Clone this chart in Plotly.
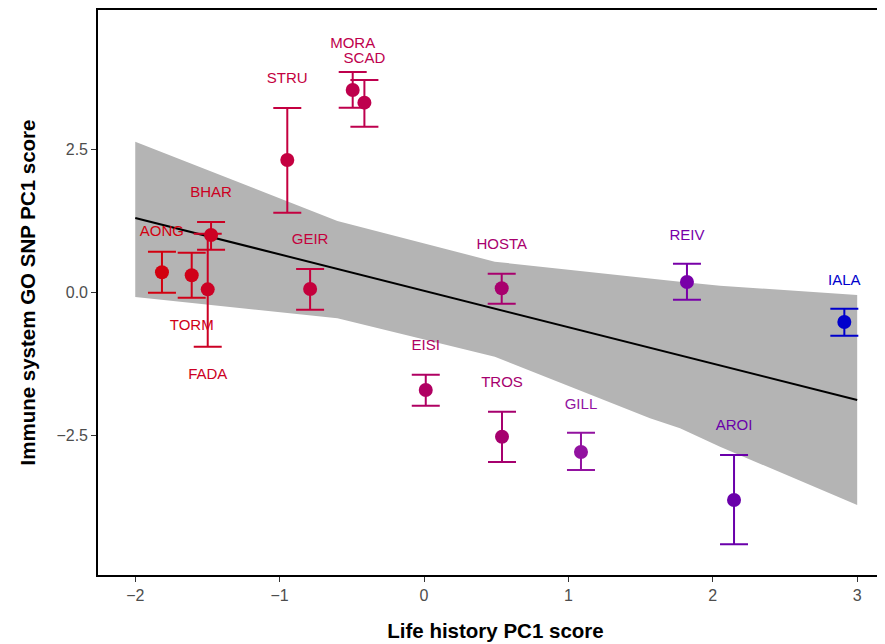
import plotly.graph_objects as go

# ---- data ----
pops = ["AONG", "TORM", "BHAR", "FADA", "GEIR", "STRU", "MORA", "SCAD",
        "HOSTA", "EISI", "TROS", "GILL", "REIV", "AROI", "IALA"]
life_pc1 = [-1.815, -1.609, -1.475, -1.498, -0.789, -0.947, -0.494, -0.413,
            0.538, 0.012, 0.540, 1.087, 1.821, 2.147, 2.911]
immune_pc1 = [0.350, 0.297, 1.002, 0.052, 0.058, 2.313, 3.537, 3.315,
              0.070, -1.708, -2.524, -2.792, 0.180, -3.631, -0.519]
err_upper = [0.710, 0.692, 1.229, 1.024, 0.407, 3.222, 3.851, 3.712,
             0.325, -1.441, -2.087, -2.455, 0.500, -2.844, -0.287]
err_lower = [-0.007, -0.094, 0.745, -0.951, -0.304, 1.392, 3.227, 2.895,
             -0.199, -1.983, -2.967, -3.107, -0.129, -4.406, -0.759]
label_y = [1.042, -0.601, 1.731, -1.446, 0.902, 3.724, 4.336, 4.073,
           0.815, -0.951, -1.591, -1.970, 0.972, -2.350, 0.198]
colors = ["#D2000F", "#D00018", "#CC0022", "#CC0024", "#C4003C", "#C40040",
          "#BE004C", "#BE004E", "#A8006E", "#B00062", "#A6006E", "#9212A0",
          "#7800A8", "#6A00AA", "#0000CC"]

fit_x = [-2.0, 3.0]
fit_y = [1.30, -1.883]
band_x = [-2.0, -0.6, 0.49, 1.565, 1.773, 2.05, 3.0]
band_upper = [2.63, 1.247, 0.535, 0.233, 0.185, 0.115, -0.047]
band_lower = [-0.08, -0.455, -1.126, -2.203, -2.378, -2.70, -3.719]

x_ticks = [-2, -1, 0, 1, 2, 3]
x_ticktext = ["\u22122", "\u22121", "0", "1", "2", "3"]
y_ticks = [2.5, 0.0, -2.5]
y_ticktext = ["2.5", "0.0", "\u22122.5"]

FONT = "Liberation Sans, Arial, Helvetica, sans-serif"

fig = go.Figure()

# confidence band
fig.add_trace(go.Scatter(x=band_x, y=band_lower, mode="lines",
                         line=dict(width=0, color="rgba(0,0,0,0)"),
                         showlegend=False, hoverinfo="skip"))
fig.add_trace(go.Scatter(x=band_x, y=band_upper, mode="lines",
                         line=dict(width=0, color="rgba(0,0,0,0)"),
                         fill="tonexty", fillcolor="#B4B4B4",
                         showlegend=False, hoverinfo="skip"))
# fitted line
fig.add_trace(go.Scatter(x=fit_x, y=fit_y, mode="lines",
                         line=dict(color="black", width=2),
                         showlegend=False, hoverinfo="skip"))

# points with error bars
for i, p in enumerate(pops):
    y = immune_pc1[i]
    fig.add_trace(go.Scatter(
        x=[life_pc1[i]], y=[y], mode="markers",
        marker=dict(color=colors[i], size=14, line=dict(width=0)),
        error_y=dict(type="data", symmetric=False,
                     array=[err_upper[i] - y], arrayminus=[y - err_lower[i]],
                     color=colors[i], thickness=2, width=14),
        name=p, showlegend=False))

# labels
fig.add_trace(go.Scatter(
    x=life_pc1, y=label_y, mode="text", text=pops,
    textposition="middle center",
    textfont=dict(family=FONT, size=15, color=colors),
    showlegend=False, hoverinfo="skip"))

fig.update_layout(
    width=885, height=644,
    margin=dict(l=90, r=0, t=2, b=77, autoexpand=False),
    paper_bgcolor="white", plot_bgcolor="white",
    font=dict(family=FONT),
    xaxis=dict(range=[-2.258, 3.248], tickvals=x_ticks, ticktext=x_ticktext,
               showgrid=False, zeroline=False, automargin=False,
               showline=True, linecolor="black", linewidth=1.6, mirror=True,
               ticks="outside", ticklen=5, tickwidth=1.3, tickcolor="#333333",
               tickfont=dict(family=FONT, size=16, color="#4D4D4D"),
               title=dict(text="<b>Life history PC1 score</b>",
                          font=dict(family=FONT, size=20.5, color="black"),
                          standoff=21)),
    yaxis=dict(range=[-4.942, 4.935], tickvals=y_ticks, ticktext=y_ticktext,
               showgrid=False, zeroline=False, automargin=False,
               showline=True, linecolor="black", linewidth=1.6, mirror=False,
               ticks="outside", ticklen=5, tickwidth=1.3, tickcolor="#333333",
               tickfont=dict(family=FONT, size=16, color="#4D4D4D")),
    annotations=[dict(text="<b>Immune system GO SNP PC1 score</b>",
                      xref="paper", yref="paper", x=0, y=0.5,
                      xanchor="center", yanchor="middle", xshift=-71,
                      textangle=-90, showarrow=False,
                      font=dict(family=FONT, size=20.5, color="black"))],
)

fig.write_html("out.html")
